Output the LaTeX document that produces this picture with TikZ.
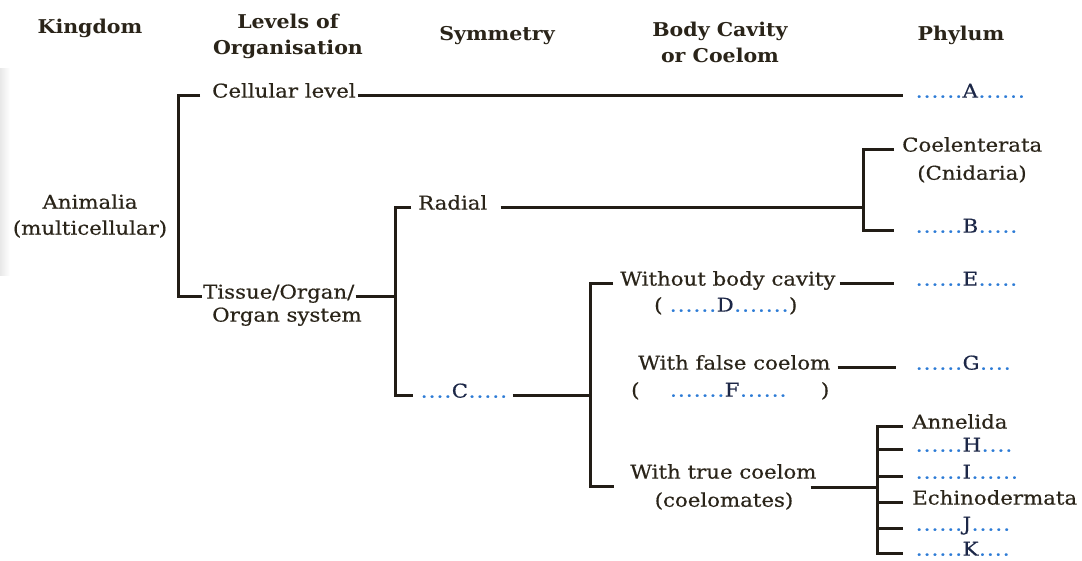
\documentclass[tikz,border=0pt]{standalone}
\usepackage{fontspec}
\setmainfont[UprightFeatures={FakeStretch=1.12,FakeBold=0.5},BoldFeatures={FakeStretch=1.08}]{DejaVu Serif}
\definecolor{ink}{HTML}{2A2419}
\definecolor{lineink}{HTML}{221D16}
\definecolor{dotblue}{HTML}{2C7BD6}
\definecolor{letblue}{HTML}{1C2747}
\newcommand\dotx{\makebox[7.9pt]{\textcolor{dotblue}{.}}}
\newcount\dtcount
\newcommand\dotsx[1]{\dtcount=#1\relax\loop\ifnum\dtcount>0 \dotx\advance\dtcount by -1 \repeat}
\newcommand\phx[3]{\dotsx{#1}\textcolor{letblue}{#2}\dotsx{#3}}
\begin{document}
\begin{tikzpicture}[x=1pt,y=-1pt,
  txt/.style={text=ink,inner sep=0pt,font=\fontsize{19}{26}\selectfont},
  lt/.style={txt,anchor=mid west},
  ct/.style={txt,anchor=center,align=center},
  hd/.style={txt,anchor=center,align=center,font=\bfseries\fontsize{19}{26}\selectfont},
  ln/.style={draw=lineink,line width=3pt}]
\fill[white] (0,0) rectangle (1082,560);
\clip (0,0) rectangle (1082,560);
\shade[left color=black!9, right color=white] (0,68) rectangle (10,275);
% headers
\node[hd] (hk) at (90,28) {Kingdom};
\node[hd] (hl) at (288,36) {Levels of\\Organisation};
\node[hd] (hs) at (497,36) {Symmetry};
\node[hd] (hb) at (720,42) {Body Cavity\\or Coelom};
\node[hd] (hp) at (961,35) {Phylum};
% body
\node[ct] (anim) at (90,216) {Animalia\\(multicellular)};
\node[lt] (cell) at (212,95) {Cellular level};
\node[lt] (pA) at (915,95) {\phx{6}{A}{6}};
\node[lt] (tis) at (203,296) {Tissue/Organ/};
\node[lt] (tis2) at (212,319) {Organ system};
\node[lt] (rad) at (418,207) {Radial};
\node[lt] (pC) at (420,395) {\phx{4}{C}{5}};
\node[lt] (coe1) at (902,149) {Coelenterata};
\node[ct] (coe2) at (972,174) {(Cnidaria)};
\node[lt] (pB) at (915,230) {\phx{6}{B}{5}};
\node[lt] (wbc) at (620,283) {Without body cavity};
\node[lt] (pD) at (654,309) {( \phx{6}{D}{7})};
\node[lt] (pE) at (915,283) {\phx{6}{E}{5}};
\node[lt] (wfc) at (638,367) {With false coelom};
\node[lt] (pF) at (631,394) {(\hspace{30pt}\phx{7}{F}{6}\hspace{34pt})};
\node[lt] (pG) at (915,367) {\phx{6}{G}{4}};
\node[lt] (wtc) at (630,476) {With true coelom};
\node[ct] (coel) at (724,501) {(coelomates)};
\node[lt] (ann) at (912,426) {Annelida};
\node[lt] (pH) at (915,449) {\phx{6}{H}{4}};
\node[lt] (pI) at (915,476) {\phx{6}{I}{6}};
\node[lt] (ech) at (912,502) {Echinodermata};
\node[lt] (pJ) at (915,528) {\phx{6}{J}{5}};
\node[lt] (pK) at (915,553) {\phx{6}{K}{4}};
% spines
\coordinate (s1) at (178,0);
\coordinate (s2) at (395,0);
\coordinate (s3) at (863,0);
\coordinate (s4) at (590,0);
\coordinate (s5) at (877,0);
% bracket 1
\draw[ln] ([xshift=-12pt]cell.mid west) -- (cell.mid west -| s1) -- (tis.mid west -| s1) -- ([xshift=-1pt]tis.mid west);
\draw[ln] ([xshift=2pt]cell.mid east) -- ([xshift=-12pt]pA.mid west);
\draw[ln] ([xshift=1pt]tis.mid east) -- (tis.mid east -| s2);
% bracket 2
\draw[ln] ([xshift=-7pt]rad.mid west) -- (rad.mid west -| s2) -- (pC.mid west -| s2) -- ([xshift=-7pt]pC.mid west);
\draw[ln] ([xshift=13pt]rad.mid east) -- (rad.mid east -| s3);
% bracket 3
\draw[ln] ([xshift=-8pt]coe1.mid west) -- (coe1.mid west -| s3) -- (pB.mid west -| s3) -- ([xshift=-21pt]pB.mid west);
% C to bracket 4
\draw[ln] ([xshift=5pt]pC.mid east) -- (pC.mid east -| s4);
\draw[ln] ([xshift=-7pt]wbc.mid west) -- (wbc.mid west -| s4) |- ([xshift=-16pt,yshift=-10pt]wtc.mid west);
\draw[ln] ([xshift=4pt]wbc.mid east) -- ([xshift=-21pt]pE.mid west);
\draw[ln] ([xshift=7pt]wfc.mid east) -- ([xshift=-19pt]pG.mid west);
\coordinate (wl) at ([xshift=-6pt,yshift=-11pt]wtc.mid east);
\draw[ln] (wl) -- (wl -| s5);
% bracket 5
\draw[ln] ([xshift=-9pt]ann.mid west) -- (ann.mid west -| s5) -- (pK.mid west -| s5) -- ([xshift=-12pt]pK.mid west);
\draw[ln] (pH.mid west -| s5) -- ([xshift=-12pt]pH.mid west);
\draw[ln] (pI.mid west -| s5) -- ([xshift=-12pt]pI.mid west);
\draw[ln] (ech.mid west -| s5) -- ([xshift=-9pt]ech.mid west);
\draw[ln] (pJ.mid west -| s5) -- ([xshift=-12pt]pJ.mid west);
\end{tikzpicture}
\end{document}
